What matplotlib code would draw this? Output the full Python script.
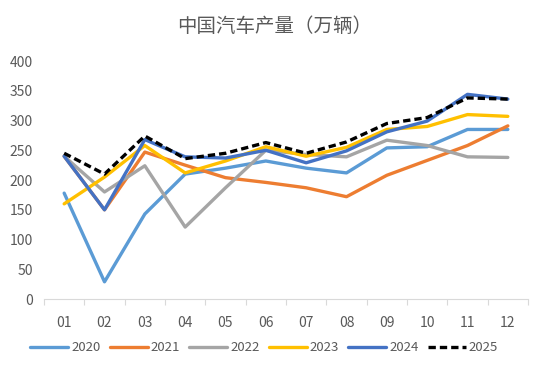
import matplotlib
matplotlib.use("Agg")
import matplotlib.pyplot as plt
import numpy as np

plt.rcParams['font.family'] = ['Noto Sans CJK SC', 'DejaVu Sans']

months = ["01", "02", "03", "04", "05", "06", "07", "08", "09", "10", "11", "12"]
y2020 = [178, 29, 143, 210, 220, 232, 220, 212, 254, 256, 285, 285]
y2021 = [240, 150, 247, 225, 204, 196, 187, 172, 208, 233, 258, 291]
y2022 = [240, 180, 224, 121, 187, 250, 243, 239, 267, 258, 239, 238]
y2023 = [160, 205, 258, 212, 232, 256, 240, 255, 285, 290, 310, 307]
y2024 = [240, 150, 268, 239, 237, 250, 229, 249, 281, 299, 344, 336]
y2025 = [245, 210, 274, 236, 245, 263, 245, 264, 295, 305, 338, 336]
yticks = [0, 50, 100, 150, 200, 250, 300, 350, 400]

series = [
    ("2020", y2020, "#5B9BD5", "-"),
    ("2021", y2021, "#ED7D31", "-"),
    ("2022", y2022, "#A5A5A5", "-"),
    ("2023", y2023, "#FFC000", "-"),
    ("2024", y2024, "#4472C4", "-"),
    ("2025", y2025, "#000000", (0, (2.2, 1.2))),
]

fig = plt.figure(figsize=(5.5, 3.72), dpi=100)
ax = fig.add_axes([0.08, 0.196, 0.88, 0.64])
x = np.arange(len(months))
for name, vals, col, ls in series:
    ax.plot(x, vals, color=col, lw=2.4, ls=ls, label=name, solid_capstyle='round')

ax.set_ylim(0, 400)
ax.set_xlim(-0.5, len(months) - 0.5)
ax.set_yticks(yticks)
ax.set_yticklabels([str(v) for v in yticks])
ax.set_xticks(np.arange(-0.5, len(months), 1.0))
ax.set_xticklabels([])
ax.set_xticks(x, minor=True)
ax.set_xticklabels(months, minor=True)
ax.tick_params(axis='x', which='major', length=4, color='#D9D9D9', width=0.8)
ax.tick_params(axis='x', which='minor', length=0, pad=12, labelsize=10, labelcolor='#595959')
ax.tick_params(axis='y', length=0, labelsize=10, labelcolor='#595959', pad=8)
for s in ['top', 'right', 'left']:
    ax.spines[s].set_visible(False)
ax.spines['bottom'].set_color('#D9D9D9')

fig.text(0.5, 0.93, "中国汽车产量（万辆）", ha='center', va='center', fontsize=14, color='#595959')
fig.legend(loc='center', bbox_to_anchor=(0.48, 0.065), ncol=6, frameon=False,
           fontsize=9.5, labelcolor='#595959', handlelength=2.9, handletextpad=0.2,
           columnspacing=0.7)
fig.savefig("out.png", dpi=100)
